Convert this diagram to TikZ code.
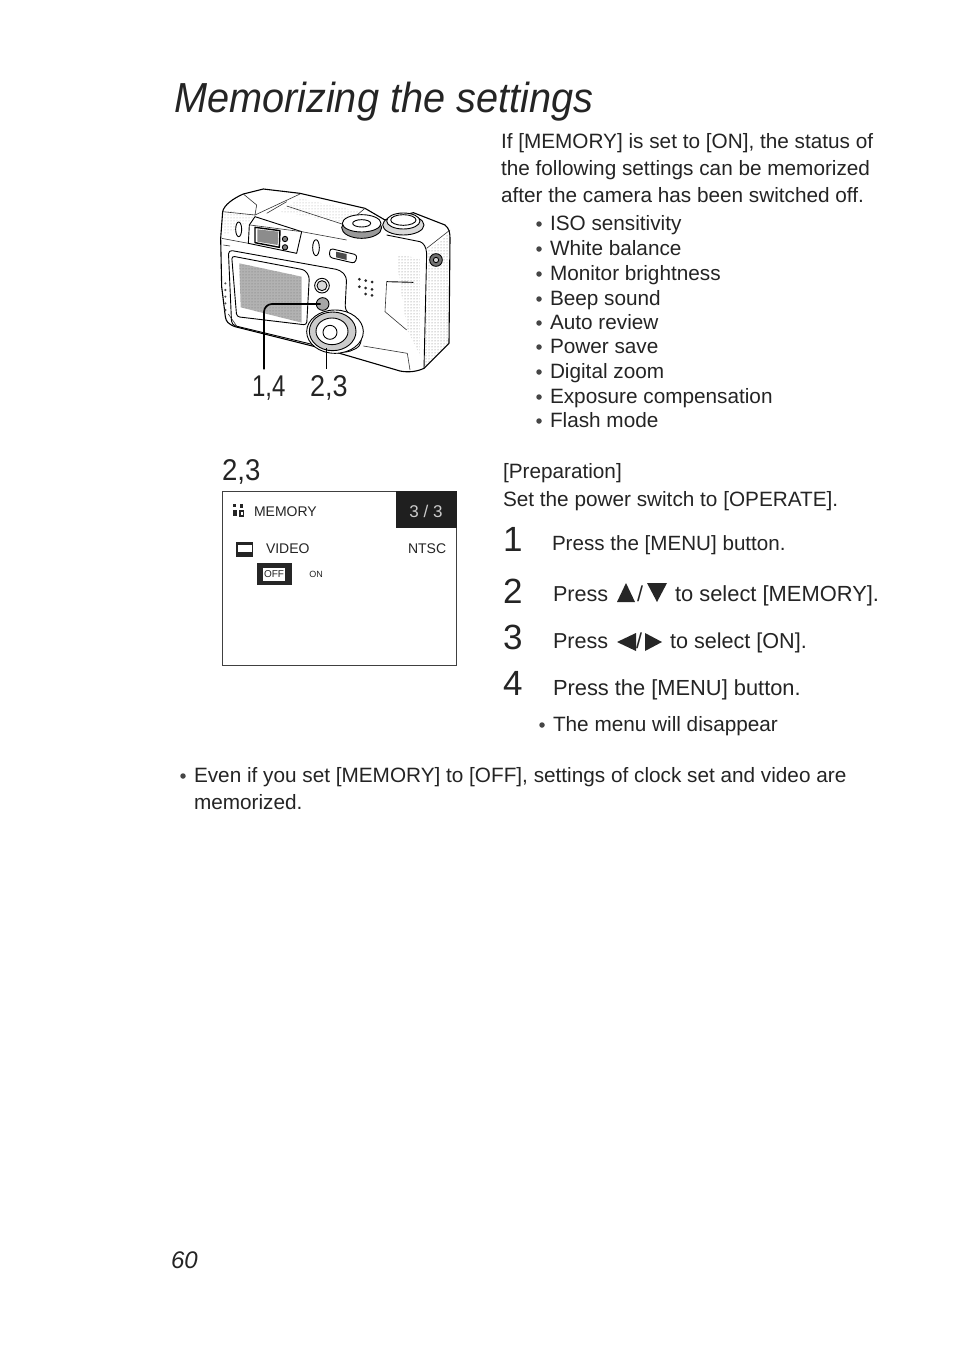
\documentclass[tikz,border=0pt]{standalone}
\usepackage{fontspec}
\setmainfont{Liberation Sans}
\usetikzlibrary{patterns}
\definecolor{ink}{gray}{0.14}
\tikzset{
  x=1pt,y=-1pt,
  plain/.style={anchor=base west,inner sep=0pt,outer sep=0pt,text=ink},
  txt/.style={plain,font=\fontsize{20.75}{20.75}\selectfont},
  sized/.style={plain,font=\fontsize{#1}{#1}\selectfont},
  stepnum/.style={plain,font=\fontsize{35}{35}\selectfont},
  callout/.style={plain,font=\fontsize{30}{30}\selectfont},
  osd/.style={plain,font=\fontsize{14}{14}\selectfont},
  cam/.style={draw=black,line width=0.9pt,line join=round},
  camthin/.style={draw=black!80,line width=0.6pt,line join=round},
  shade/.style={pattern=dots,pattern color=black!55},
  blt/.style={circle,fill=ink!85,inner sep=0pt,minimum size=5.5pt},
  tri/.style={fill=black!85,draw=none}
}
\begin{document}
\begin{tikzpicture}
\useasboundingbox (0,0) rectangle (954,1349);
\fill[white] (0,0) rectangle (954,1349);

% Title
\node[plain,font=\fontsize{42}{42}\selectfont\itshape] (title) at (174,112) {\scalebox{0.945}[1]{Memorizing the settings}};

% Intro
\node[txt] (i1) at (501,148) {If [MEMORY] is set to [ON], the status of};
\node[txt] (i2) at (501,175) {the following settings can be memorized};
\node[txt] (i3) at (501,202) {after the camera has been switched off.};

% Bullet list
\foreach \n/\y/\t in {a/230/ISO sensitivity,b/255/White balance,c/280/Monitor brightness,d/305/Beep sound,e/329/Auto review,f/353/Power save,g/378/Digital zoom,h/403/Exposure compensation,k/427/Flash mode}{
  \node[blt] (b\n) at (539,\y-6) {};
  \node[txt] (t\n) at (550,\y) {\t};
}

% Preparation
\node[txt] (p1) at (503,478) {[Preparation]};
\node[txt] (p2) at (503,506) {Set the power switch to [OPERATE].};

% Steps
\node[stepnum] (n1) at (503,551) {1};
\node[sized=20.6] (s1) at (552,550) {Press the [MENU] button.};
\node[stepnum] (n2) at (503,603) {2};
\node[sized=21.6] (s2a) at (553,601) {Press};
\fill[tri] (617,602) -- (635,602) -- (626,583) -- cycle;
\node[sized=21.6] (s2b) at (637,601) {/};
\fill[tri] (647,583) -- (667,583) -- (657,602) -- cycle;
\node[sized=21.9] (s2c) at (675,601) {to select [MEMORY].};
\node[stepnum] (n3) at (503,649) {3};
\node[sized=21.6] (s3a) at (553,648) {Press};
\fill[tri] (617,642) -- (636,633) -- (636,651) -- cycle;
\node[sized=21.6] (s3b) at (636,648) {/};
\fill[tri] (645,633) -- (645,651) -- (662,642) -- cycle;
\node[sized=21.6] (s3c) at (670,648) {to select [ON].};
\node[stepnum] (n4) at (503,695) {4};
\node[sized=21.85] (s4) at (553,695) {Press the [MENU] button.};
\node[blt] (b5) at (542,725) {};
\node[txt] (s5) at (553,731) {The menu will disappear};

% Note
\node[blt] (b6) at (183,776) {};
\node[txt] (nt1) at (194,782) {Even if you set [MEMORY] to [OFF], settings of clock set and video are};
\node[txt] (nt2) at (194,809) {memorized.};

% Page number
\node[plain,font=\fontsize{24}{24}\selectfont\itshape] (pg) at (171,1268) {60};

% Screen panel
\node[callout] (lab) at (222,480) {\scalebox{0.92}[1]{2,3}};
\coordinate (sTL) at (222,491);
\coordinate (sBR) at (456.5,665);
\draw[black!75,line width=1pt] (sTL) rectangle (sBR);
\fill[black!88] (396,491) rectangle (456.5,528);
\node[anchor=base,inner sep=0pt,text=black!20,font=\fontsize{17}{17}\selectfont] (pg3) at (426,517) {3 / 3};
% memory icon
\fill[ink] (233,504) rectangle (236,507);
\fill[ink] (240,504) rectangle (243,508);
\fill[ink] (233,510) rectangle (237,516);
\fill[ink] (239,510) rectangle (244,516.5);
\fill[white] (240.5,511.5) rectangle (242.5,515);
\node[osd] (o1) at (254,516) {MEMORY};
% video icon
\fill[ink] (236,542) rectangle (253,557);
\fill[white] (238,544.5) rectangle (251.5,551.5);
\node[osd] (o2) at (266,553) {VIDEO};
\node[osd] (o3) at (408,553) {NTSC};
\fill[black!85] (257,563) rectangle (292,585);
\fill[white] (263,568) rectangle (285,581);
\node[anchor=center,inner sep=0pt,text=ink,font=\fontsize{10}{10}\selectfont] (o4) at (274,574.5) {OFF};
\node[anchor=center,inner sep=0pt,text=ink,font=\fontsize{9}{9}\selectfont] (o5) at (316,574.5) {ON};

% Camera
\begin{scope}[shift={(200,170)},xscale=1/3,yscale=1/3]
 % shaded surfaces first
 \path[shade] (682,245) -- (745,190) -- (745,520) -- (675,590) -- cycle;
 \path[shade] (590,255) -- (662,265) -- (662,560) -- (622,480) -- (600,340) -- cycle;
 \path[pattern=dots,pattern color=black!35] (70,120) -- (170,135) -- (140,160) -- (68,200) -- cycle;
 \path[pattern=dots,pattern color=black!35] (300,85) -- (480,125) -- (440,160) -- (240,125) -- cycle;
 % outer
 \draw[cam,line width=1.1pt] (62,205) -- (68,125) .. controls (72,105) and (100,85) .. (130,72) -- (190,57) -- (300,70) -- (495,115) -- (555,150) -- (640,128) -- (735,165) .. controls (748,175) and (750,190) .. (750,205) -- (747,520) -- (672,595) .. controls (650,605) and (625,608) .. (600,603) -- (385,540) -- (105,470) .. controls (85,462) and (78,455) .. (76,440) -- (65,350) -- cycle;
 % upper edges
 \draw[camthin] (68,125) -- (165,135);
 \draw[camthin] (165,135) -- (300,72);
 \draw[camthin] (200,130) -- (260,95);
 \draw[camthin] (130,72) -- (170,105) -- (165,135);
 \draw[camthin] (305,185) -- (440,210);
 \draw[camthin] (260,108) -- (435,165);
 \draw[camthin] (495,115) -- (435,165);
 \draw[cam] (560,195) -- (660,215) .. controls (672,220) and (678,230) .. (680,250) -- (672,595);
 \draw[camthin] (680,235) -- (750,180);
 \draw[camthin] (65,205) -- (145,220);
 \draw[camthin] (70,225) -- (90,228);
 % viewfinder
 \draw[cam,fill=white] (165,140) -- (148,165) -- (145,220) -- (290,250) -- (305,185) -- cycle;
 \draw[camthin] (150,165) -- (305,185);
 \fill[black!45] (172,178) -- (235,185) -- (233,225) -- (172,215) -- cycle;
 \draw[cam,line width=1.4pt] (165,172) -- (240,182) -- (238,232) -- (165,218) -- cycle;
 \draw[cam,fill=black!50] (255,207) circle (8);
 \draw[cam,fill=black!50] (255,232) circle (8);
 \draw[cam,fill=white] (116,178) ellipse (9 and 22);
 % window slots
 \draw[cam,fill=white,rounded corners=3pt] (390,235) -- (472,255) -- (465,280) -- (388,262) -- cycle;
 \fill[black!70] (408,245) -- (440,252) -- (440,270) -- (408,262) -- cycle;
 \draw[cam,fill=white] (348,233) ellipse (10 and 24);
 % dials on top
 \draw[cam,fill=black!40] (485,173) ellipse (60 and 32);
 \draw[cam,fill=white] (485,160) ellipse (58 and 26);
 \draw[cam,fill=white] (485,160) ellipse (27 and 11);
 \draw[cam,fill=black!15] (610,165) ellipse (62 and 30);
 \draw[cam,fill=white] (610,153) ellipse (50 and 24);
 \draw[cam] (610,150) ellipse (38 and 16);
 % side lug
 \draw[cam,fill=black!55] (708,270) circle (19);
 \draw[cam,fill=black!15] (708,270) circle (8);
 % back panel
 \draw[cam,rounded corners=4pt] (85,240) -- (420,300) -- (440,320) -- (435,420) -- (490,470) -- (480,530) -- (440,548) -- (95,465) -- cycle;
 \draw[cam,rounded corners=3pt] (95,258) -- (315,300) -- (328,320) -- (320,465) -- (110,440) -- cycle;
 \fill[black!30] (118,280) -- (305,320) -- (305,458) -- (122,412) -- cycle;
 \path[shade] (118,280) -- (305,320) -- (305,458) -- (122,412) -- cycle;
 % buttons
 \draw[cam,fill=white] (366,347) circle (22);
 \draw[cam,fill=black!15] (366,347) circle (15);
 \draw[cam,fill=black!35] (368,402) circle (19);
 % cursor pad
 \draw[cam,fill=white] (405,485) ellipse (85 and 65);
 \draw[cam,fill=black!20] (398,484) ellipse (70 and 58);
 \draw[cam,fill=white] (396,484) ellipse (48 and 40);
 \draw[cam,fill=white] (390,487) circle (21);
 % speaker dots
 \foreach \p in {(478,328),(497,332),(516,336),(478,350),(497,354),(516,358),(497,372),(516,376)}
   \fill[black!85] \p circle (4.5);
 % grip line
 \draw[cam] (560,335) -- (640,337);
 \draw[camthin] (560,335) -- (555,425) -- (620,480);
 \draw[camthin] (490,528) -- (622,550) -- (630,600);
 \draw[camthin] (85,432) -- (110,468);
 % left dots
 \foreach \yy in {340,360,380,400,420} \fill[black!70] (76,\yy) circle (3.5);
 % callout leaders
 \coordinate (c1a) at (362,402);
 \coordinate (c1b) at (192,402);
 \coordinate (c1c) at (192,598);
 \coordinate (c2a) at (380,535);
 \coordinate (c2b) at (380,598);
 \draw[black,line width=1.7pt,rounded corners=8pt] (c1a) -- (c1b) -- (c1c);
 \draw[black,line width=1.1pt] (c2a) -- (c2b);
\end{scope}
\node[callout] (cl1) at (252,396) {\scalebox{0.8}[1]{1,4}};
\node[callout] (cl2) at (310,396) {\scalebox{0.9}[1]{2,3}};
\end{tikzpicture}
\end{document}
